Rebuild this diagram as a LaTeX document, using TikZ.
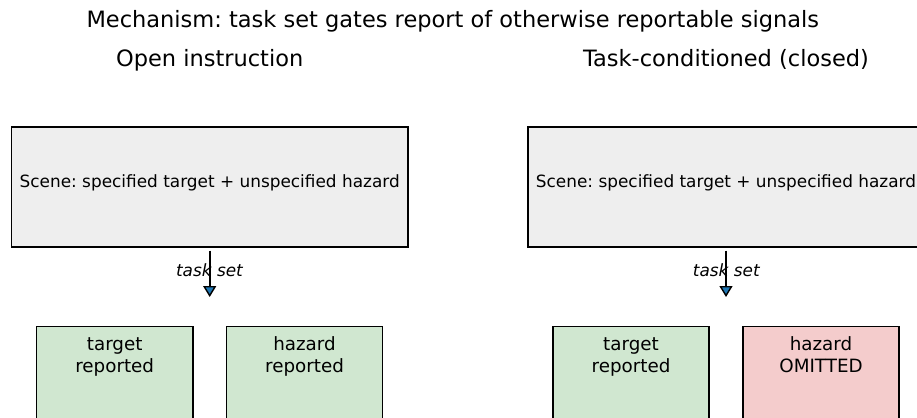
\documentclass[tikz,border=0pt]{standalone}
\usepackage{fontspec}
\setmainfont{DejaVu Sans}
\frenchspacing
\usetikzlibrary{arrows.meta}
\definecolor{scenegray}{RGB}{238,238,238}
\definecolor{okgreen}{RGB}{208,231,208}
\definecolor{badred}{RGB}{244,204,204}
\definecolor{cblue}{RGB}{31,119,180}
\tikzset{
  titletxt/.style={font=\fontsize{22.5bp}{27bp}\selectfont, anchor=base, inner sep=0pt},
  scenebox/.style={draw=black, line width=1.6bp, fill=scenegray, minimum width=396.5bp, minimum height=120bp,
    inner sep=0pt, text height=7bp, text depth=5bp, font=\fontsize{16.9bp}{20bp}\selectfont},
  outbox/.style={draw=black, line width=1.6bp, minimum width=156bp, minimum height=120bp, anchor=north, inner sep=0pt},
  goodbox/.style={outbox, fill=okgreen},
  badbox/.style={outbox, fill=badred},
  boxtxt/.style={font=\fontsize{18.3bp}{22bp}\selectfont, anchor=base, inner sep=0pt},
  gatetxt/.style={font=\fontsize{16.9bp}{20bp}\selectfont\itshape, anchor=base, inner sep=0pt},
  gatearrow/.style={draw=black, line width=2.4bp, shorten <=3bp,
    -{Triangle[width=13bp,length=11bp,fill=cblue,line width=1.4bp]}},
}
\begin{document}
\begin{tikzpicture}[x=1bp,y=-1bp]
\useasboundingbox (0,0) rectangle (917,417);
\clip (0,0) rectangle (917,417);
\node[titletxt] (title) at (452.8,27.3) {Mechanism: task set gates report of otherwise reportable signals};
\node[titletxt] (subL) at (209.7,66.7) {Open instruction};
\node[titletxt] (subR) at (726,66.7) {Task-conditioned (closed)};
% scene boxes
\node[scenebox] (sL) at (209.7,186.7) {Scene: specified target + unspecified hazard};
\node[scenebox] (sR) at (726,186.7) {Scene: specified target + unspecified hazard};
% gate arrows
\coordinate (eL) at (209.7,297);
\coordinate (eR) at (726,297);
\node[gatetxt] (gL) at (209.5,276.7) {task set};
\node[gatetxt] (gR) at (726.3,276.7) {task set};
\draw[gatearrow] (sL.south) -- (eL);
\draw[gatearrow] (sR.south) -- (eR);
% outcome boxes
\node[goodbox] (tL) at (114.7,325.7) {};
\node[goodbox] (hL) at (304.5,325.7) {};
\node[goodbox] (tR) at (631,325.7) {};
\node[badbox] (hR) at (821,325.7) {};
\node[boxtxt] (tL1) at (tL.north |- 0,350) {target};
\node[boxtxt] (tL2) at (tL.north |- 0,372.7) {reported};
\node[boxtxt] (hL1) at (hL.north |- 0,350) {hazard};
\node[boxtxt] (hL2) at (hL.north |- 0,372.7) {reported};
\node[boxtxt] (tR1) at (tR.north |- 0,350) {target};
\node[boxtxt] (tR2) at (tR.north |- 0,372.7) {reported};
\node[boxtxt] (hR1) at (hR.north |- 0,350) {hazard};
\node[boxtxt] (hR2) at (hR.north |- 0,372.7) {OMITTED};
\end{tikzpicture}
\end{document}
